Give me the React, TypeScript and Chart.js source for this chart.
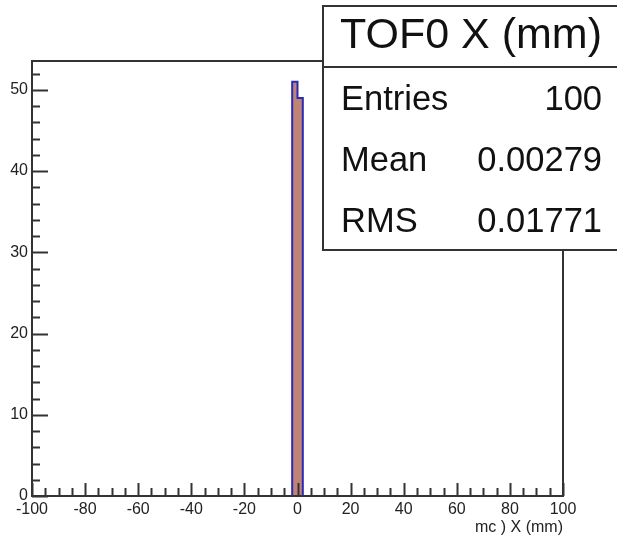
import React, { useEffect, useRef } from "react";
import { Chart, registerables } from "chart.js";

Chart.register(...registerables);

// Histogram data (non-empty bins only), bin width 2 mm on [-100, 100]
const binLowEdges = [-2, 0];
const binCounts = [51, 49];
const binWidth = 2;

const xMin = -100;
const xMax = 100;
const yMax = 53.55;
const xMajorStep = 20;
const xMinorStep = 5;
const yMajorStep = 10;
const yMinorStep = 2;

const statsTitle = "TOF0 X (mm)";
const statsLabels = ["Entries", "Mean", "RMS"];
const statsValues = ["100", "0.00279", "0.01771"];
const xAxisTitle = "mc ) X (mm)";

const FONT = "'Liberation Sans', Arial, Helvetica, sans-serif";

function buildOutline() {
  const pts: { x: number; y: number }[] = [];
  for (let i = 0; i < binLowEdges.length; i++) {
    const lo = binLowEdges[i];
    const hi = lo + binWidth;
    if (i === 0) pts.push({ x: lo, y: 0 });
    pts.push({ x: lo, y: binCounts[i] });
    pts.push({ x: hi, y: binCounts[i] });
    if (i === binLowEdges.length - 1) pts.push({ x: hi, y: 0 });
  }
  return pts;
}

const framePlugin = {
  id: "rootFrame",
  afterDatasetsDraw(chart: any) {
    const { ctx, chartArea } = chart;
    const xs = chart.scales.x;
    const ys = chart.scales.y;
    ctx.save();
    ctx.strokeStyle = "#333333";
    ctx.lineWidth = 2;
    ctx.strokeRect(chartArea.left, chartArea.top, chartArea.right - chartArea.left, chartArea.bottom - chartArea.top);
    ctx.beginPath();
    for (let v = xMin; v <= xMax + 1e-9; v += xMinorStep) {
      const px = Math.round(xs.getPixelForValue(v)) + 0.5;
      const isMajor = Math.abs(((v - xMin) / xMajorStep) - Math.round((v - xMin) / xMajorStep)) < 1e-6;
      const len = isMajor ? 13 : 8;
      ctx.moveTo(px, chartArea.bottom);
      ctx.lineTo(px, chartArea.bottom - len);
    }
    for (let v = 0; v <= yMax + 1e-9; v += yMinorStep) {
      const py = Math.round(ys.getPixelForValue(v)) + 0.5;
      const isMajor = Math.abs(v / yMajorStep - Math.round(v / yMajorStep)) < 1e-6;
      const len = isMajor ? 16 : 8;
      ctx.moveTo(chartArea.left, py);
      ctx.lineTo(chartArea.left + len, py);
    }
    ctx.stroke();
    ctx.restore();
  },
  afterDraw(chart: any) {
    const { ctx } = chart;
    ctx.save();
    const left = 323;
    const top = 6;
    const right = 618;
    const divider = 67;
    const bottom = 250;
    ctx.fillStyle = "#ffffff";
    ctx.fillRect(left, top, right - left, bottom - top);
    ctx.strokeStyle = "#333333";
    ctx.lineWidth = 2;
    ctx.strokeRect(left, top, right - left, bottom - top);
    ctx.beginPath();
    ctx.moveTo(left, divider);
    ctx.lineTo(right, divider);
    ctx.stroke();
    ctx.fillStyle = "#111111";
    ctx.textBaseline = "alphabetic";
    ctx.font = `43px ${FONT}`;
    ctx.textAlign = "center";
    ctx.fillText(statsTitle, 471, 47.5);
    ctx.font = `34.5px ${FONT}`;
    const rowH = (bottom - divider) / statsLabels.length;
    statsLabels.forEach((lab, i) => {
      const base = divider + rowH * (i + 0.5) + 12;
      ctx.textAlign = "left";
      ctx.fillText(lab, 341, base);
      ctx.textAlign = "right";
      ctx.fillText(statsValues[i], 602, base);
    });
    ctx.restore();
  },
};

export default function App() {
  const ref = useRef<HTMLCanvasElement | null>(null);
  useEffect(() => {
    document.body.style.margin = "0";
    if (!ref.current) return;
    const chart = new Chart(ref.current, {
      type: "line",
      data: {
        datasets: [
          {
            data: buildOutline(),
            borderColor: "#2a2ab8",
            borderWidth: 2,
            backgroundColor: "#c08476",
            fill: "origin",
            pointRadius: 0,
            tension: 0,
          },
        ],
      },
      options: {
        animation: false,
        responsive: false,
        maintainAspectRatio: false,
        layout: { padding: { left: 0, top: 61, right: 54, bottom: 0 } },
        plugins: { legend: { display: false }, tooltip: { enabled: false } },
        scales: {
          x: {
            type: "linear",
            min: xMin,
            max: xMax,
            grid: { display: false, drawTicks: false },
            border: { display: false },
            ticks: {
              stepSize: xMajorStep,
              includeBounds: false,
              padding: 4,
              maxRotation: 0,
              autoSkip: false,
              color: "#222222",
              font: { family: FONT, size: 16 },
            },
            title: {
              display: true,
              text: xAxisTitle,
              align: "end",
              color: "#222222",
              font: { family: FONT, size: 16 },
              padding: { top: 0, bottom: 3 },
            },
            afterFit(scale: any) {
              scale.height = 44;
            },
          },
          y: {
            type: "linear",
            min: 0,
            max: yMax,
            grid: { display: false, drawTicks: false },
            border: { display: false },
            ticks: {
              stepSize: yMajorStep,
              includeBounds: false,
              padding: 4,
              color: "#222222",
              font: { family: FONT, size: 16 },
            },
            afterFit(scale: any) {
              scale.width = 32;
            },
          },
        },
      },
      plugins: [framePlugin],
    } as any);
    return () => chart.destroy();
  }, []);
  return <canvas ref={ref} width={617} height={540} style={{ display: "block" }} />;
}
